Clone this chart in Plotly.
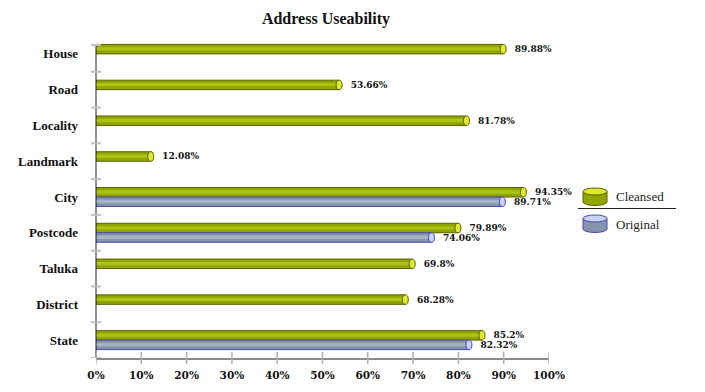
import plotly.graph_objects as go

categories = ["House", "Road", "Locality", "Landmark", "City", "Postcode", "Taluka", "District", "State"]
cleansed = [89.88, 53.66, 81.78, 12.08, 94.35, 79.89, 69.8, 68.28, 85.2]
original = [None, None, None, None, 89.71, 74.06, None, None, 82.32]
x_ticks = [0, 10, 20, 30, 40, 50, 60, 70, 80, 90, 100]
x_tick_labels = [f"{v}%" for v in x_ticks]

W, H = 705, 392
L, R, T, B = 96, 156, 36, 34
PW, PH = W - L - R, H - T - B

def px(xp):
    return (xp - L) / PW

def py(yp):
    return (H - B - yp) / PH

bw = 0.265
n = len(categories)
idx = list(range(n))
off_c = [-bw for _ in cleansed]
off_o = [0.0 for _ in original]

C_FILL, C_LINE, C_HI, C_CAP = "#92a400", "#5a6200", "#aac414", "#e0e830"
O_FILL, O_LINE, O_HI, O_CAP = "#8494ae", "#4a4aa8", "#a4b4c4", "#c8d2f4"

fig = go.Figure()

def fmt(v):
    s = f"{v:.2f}".rstrip("0").rstrip(".")
    return "<b>" + s + "%</b>"

LBL_FONT = dict(family="DejaVu Serif", size=9, color="#111")
PAD = "\u00a0\u00a0\u00a0"

# Cleansed bars
fig.add_trace(go.Bar(
    y=idx, x=cleansed, orientation="h", width=bw, offset=off_c,
    marker=dict(color=C_FILL, line=dict(color=C_LINE, width=1)),
    text=[PAD + fmt(v) for v in cleansed], textposition="outside",
    constraintext="none", cliponaxis=False, textfont=LBL_FONT,
    name="Cleansed", hoverinfo="x+y"))
fig.add_trace(go.Bar(
    y=idx, x=cleansed, orientation="h", width=bw * 0.35,
    offset=[o + bw * 0.3 for o in off_c],
    marker=dict(color=C_HI, line=dict(width=0)), hoverinfo="skip", showlegend=False))

# Original bars
oy = [i for i, v in zip(idx, original) if v is not None]
ov = [v for v in original if v is not None]
oo = [off_o[i] for i in oy]
fig.add_trace(go.Bar(
    y=oy, x=ov, orientation="h", width=bw, offset=oo,
    marker=dict(color=O_FILL, line=dict(color=O_LINE, width=1)),
    text=[PAD + fmt(v) for v in ov], textposition="outside",
    constraintext="none", cliponaxis=False, textfont=LBL_FONT,
    name="Original", hoverinfo="x+y"))
fig.add_trace(go.Bar(
    y=oy, x=ov, orientation="h", width=bw * 0.35,
    offset=[o + bw * 0.3 for o in oo],
    marker=dict(color=O_HI, line=dict(width=0)), hoverinfo="skip", showlegend=False))

shapes = []
cap_w = 6 / PW * 100
# end caps
for i, v in enumerate(cleansed):
    y0 = i + off_c[i]
    shapes.append(dict(type="circle", xref="x", yref="y", x0=v - cap_w / 2, x1=v + cap_w / 2,
                       y0=y0, y1=y0 + bw, fillcolor=C_CAP, line=dict(color=C_LINE, width=1)))
for i, v in zip(oy, ov):
    y0 = i + off_o[i]
    shapes.append(dict(type="circle", xref="x", yref="y", x0=v - cap_w / 2, x1=v + cap_w / 2,
                       y0=y0, y1=y0 + bw, fillcolor=O_CAP, line=dict(color=O_LINE, width=1)))

# y axis line (starts a little below the plot top)
shapes.append(dict(type="line", xref="paper", yref="paper", x0=0, x1=0, y0=0, y1=py(45),
                   line=dict(color="#222", width=1)))
# y band tick marks
for k in range(n + 1):
    if k == 0:
        shapes.append(dict(type="line", xref="paper", yref="paper", x0=px(91), x1=px(101),
                           y0=py(45), y1=py(45), line=dict(color="#c0c0c0", width=2)))
    else:
        yb = k - 0.5
        shapes.append(dict(type="line", xref="paper", yref="y", x0=px(91), x1=px(101), y0=yb, y1=yb,
                           line=dict(color="#c0c0c0", width=2)))
# x tick marks
for v in x_ticks:
    shapes.append(dict(type="line", xref="x", yref="paper", x0=v, x1=v, y0=py(352), y1=py(364),
                       line=dict(color="#b0b0b0", width=1.5)))

# custom legend
def cylinder(ytop, fill, cap, line):
    x0, x1 = px(583), px(607)
    e = 7
    shapes.append(dict(type="circle", xref="paper", yref="paper", x0=x0, x1=x1,
                       y0=py(ytop + 14 + e / 2), y1=py(ytop + 14 - e / 2), fillcolor=fill,
                       line=dict(color=line, width=1)))
    shapes.append(dict(type="rect", xref="paper", yref="paper", x0=x0, x1=x1,
                       y0=py(ytop + 14), y1=py(ytop + 3.5), fillcolor=fill, line=dict(width=0)))
    shapes.append(dict(type="line", xref="paper", yref="paper", x0=x0, x1=x0,
                       y0=py(ytop + 14), y1=py(ytop + 3.5), line=dict(color=line, width=1)))
    shapes.append(dict(type="line", xref="paper", yref="paper", x0=x1, x1=x1,
                       y0=py(ytop + 14), y1=py(ytop + 3.5), line=dict(color=line, width=1)))
    shapes.append(dict(type="circle", xref="paper", yref="paper", x0=x0, x1=x1,
                       y0=py(ytop + e), y1=py(ytop), fillcolor=cap, line=dict(color=line, width=1)))

cylinder(188, C_FILL, C_CAP, C_LINE)
cylinder(215, O_FILL, O_CAP, O_LINE)
shapes.append(dict(type="line", xref="paper", yref="paper", x0=px(578), x1=px(676),
                   y0=py(208.5), y1=py(208.5), line=dict(color="#222", width=1)))

LEG_FONT = dict(family="Liberation Serif", size=13, color="#222")
annotations = [
    dict(xref="paper", yref="paper", x=px(614), y=py(196), text="Cleansed", showarrow=False,
         xanchor="left", yanchor="middle", font=LEG_FONT),
    dict(xref="paper", yref="paper", x=px(614), y=py(224), text="Original", showarrow=False,
         xanchor="left", yanchor="middle", font=LEG_FONT),
]

fig.update_layout(
    width=W, height=H, margin=dict(l=L, r=R, t=T, b=B, autoexpand=False),
    paper_bgcolor="white", plot_bgcolor="white",
    barmode="overlay", showlegend=False,
    title=dict(text="<b>Address Useability</b>", x=326 / W,
               xref="container", xanchor="center", y=1 - 18 / H, yanchor="middle",
               font=dict(family="Liberation Serif", size=16, color="#111")),
    shapes=shapes, annotations=annotations,
    xaxis=dict(range=[0, 100], tickvals=x_ticks, ticktext=[f"<b>{t}</b>" for t in x_tick_labels],
               showgrid=False, zeroline=False, showline=True, linecolor="#8a8a8a", linewidth=2,
               ticks="", tickfont=dict(family="DejaVu Serif", size=10.5, color="#111"),
               ticklabelstandoff=6, automargin=False),
    yaxis=dict(range=[n - 0.5, -0.5], tickvals=idx, ticktext=[f"<b>{c}</b>" for c in categories],
               showgrid=False, zeroline=False, showline=False,
               ticks="", tickfont=dict(family="Liberation Serif", size=13, color="#111"),
               ticklabelstandoff=17, automargin=False),
)
fig.write_html("out.html", post_script="document.body.style.margin='0';",
               config={"displayModeBar": False})
